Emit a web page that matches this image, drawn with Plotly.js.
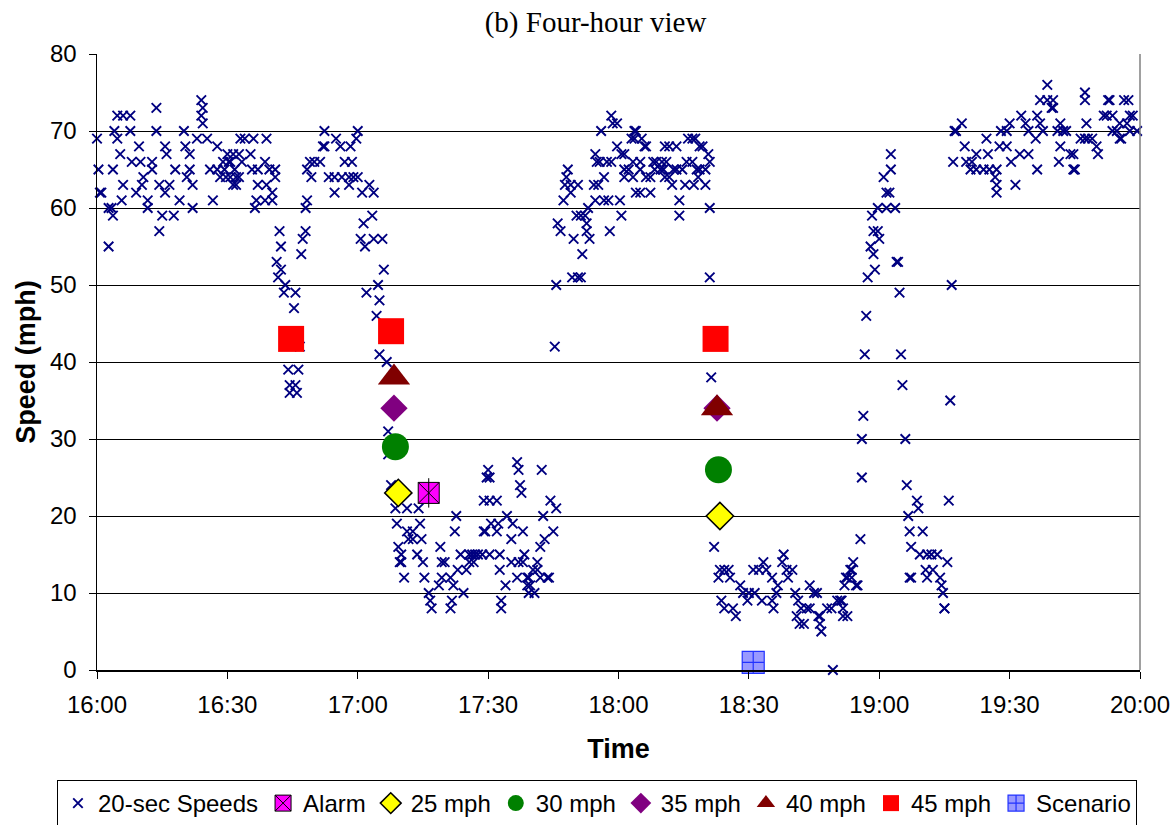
<!DOCTYPE html>
<html>
<head>
<meta charset="utf-8">
<script src="https://cdn.plot.ly/plotly-3.0.1.min.js"></script>
<style>
  html, body { margin: 0; padding: 0; background: #ffffff; }
  #chart { width: 1175px; height: 825px; }
</style>
</head>
<body>
<div id="chart"></div>
<script>
// 20-second detector samples. Slot = number of 20 s steps after 16:00.
const speedSlots = [
  0,1,2,3,8,8,10,11,11,12,14,14,16,17,18,18,23,23,24,27,29,30,31,32,35,35,38,38,41,41,
  43,43,45,47,47,48,50,53,54,57,60,61,62,64,64,66,66,69,72,72,73,73,76,78,80,83,83,85,87,88,
  89,90,91,92,92,94,94,95,96,96,98,98,99,100,102,106,107,108,109,110,111,111,116,116,117,117,119,121,121,123,
  123,124,125,126,127,127,129,130,132,133,133,136,137,137,138,139,140,141,142,144,144,145,145,147,148,150,154,156,157,157,
  160,164,164,165,168,169,171,174,174,175,176,177,179,180,180,182,183,184,185,186,188,190,191,191,193,194,195,195,197,198,
  200,201,201,203,206,207,208,209,210,210,212,214,214,215,218,218,221,222,223,224,225,226,229,230,231,236,237,238,238,240,
  244,244,245,246,247,248,249,251,253,255,257,257,259,260,261,263,266,267,267,268,269,270,271,271,271,272,276,276,277,278,
  278,279,279,282,283,286,286,287,290,290,291,291,292,293,294,294,295,297,297,298,298,299,301,302,304,304,306,306,307,308,
  309,311,312,313,315,316,317,317,318,320,322,323,324,325,327,327,328,329,331,332,332,334,334,335,337,338,338,339,340,343,
  344,344,345,346,347,348,350,350,352,353,354,355,355,356,359,359,361,362,362,364,364,364,367,369,370,370,371,371,372,372,
  375,375,375,376,378,379,379,382,382,384,385,386,389,390,391,392,392,393,395,395,397,398,400,400,402,402,404,406,407,408,
  411,411,412,413,414,415,416,416,418,420,420,422,423,423,423,424,426,429,430,431,433,433,436,437,439,441,444,446,449,450,
  453,454,457,459,460,462,466,466,467,469,470,473,474,476,477,480,482,483,484,485,486,488,490,492,492,495,497,498,499,499,
  500,504,507,508,511,513,514,515,515,516,517,518,518,520,521,521,522,524,525,527,528,528,529,530,531,532,534,535,536,536,
  537,539,539,540,543,545,545,547,548,548,551,552,553,554,555,556,558,559,560,561,561,562,562,566,567,568,570,572,573,573,
  576,577,580,582,583,584,585,585,587,588,589,590,591,592,593,597,599,600,603,604,607,607,612,614,615,616,620,621,621,621,
  623,624,628,628,630,631,634,637,638,641,643,643,648,649,649,651,651,653,656,656,659,660,660,663,664,665,665,667,669,672,
  674,674,675,679,682,682,682,683,684,687,690,691,695,697,698,699,701,701,704,706,706,707,709,711,712,713,713,715,718
];
const speedValues = [
  69,65,62,62,55,60,60,59,65,70,69,72,67,61,72,63,72,70,66,62,68,66,63,64,61,60,66,65,73,70,
  63,57,59,68,62,67,63,59,65,61,70,68,64,67,65,63,60,69,74,72,73,71,69,65,61,68,65,64,66,65,
  64,67,66,64,66,67,63,65,64,63,67,64,69,66,69,67,65,69,60,61,65,63,66,61,69,63,65,62,61,65,
  64,53,51,57,55,52,49,50,39,37,36,47,49,37,36,39,42,54,56,57,60,61,65,66,64,66,66,68,70,68,
  64,64,62,69,68,64,66,64,63,68,66,64,69,70,64,56,62,58,55,49,63,59,62,56,46,50,48,41,56,52,
  40,31,28,24,21,19,16,14,15,14,12,21,18,17,18,17,15,21,19,17,14,12,10,9,8,11,16,14,12,14,
  12,8,9,11,18,20,13,15,10,13,15,14,15,14,15,15,15,18,22,18,25,26,25,22,15,19,22,18,19,15,
  13,9,8,11,20,17,14,19,27,12,26,14,24,23,18,14,15,12,11,10,12,11,13,10,13,14,12,16,26,20,
  17,12,12,22,18,42,21,50,58,57,61,63,64,65,62,63,51,56,59,51,63,51,59,54,59,57,58,60,56,63,
  61,67,66,63,66,70,61,64,66,61,57,66,72,71,71,68,61,59,67,67,65,64,65,69,64,66,70,69,62,70,
  66,65,62,69,68,68,64,64,62,66,65,66,65,66,65,64,68,66,64,68,63,65,68,65,61,59,65,63,66,69,
  66,69,63,69,65,64,65,68,68,65,63,67,66,60,51,38,16,12,13,9,13,8,13,12,8,7,11,10,9,10,
  13,10,13,9,14,13,12,9,8,10,11,14,15,13,12,13,10,7,9,6,8,6,8,11,8,10,10,7,6,7,
  5,8,8,0,9,9,9,7,8,11,12,7,12,13,13,12,14,11,11,17,25,30,33,41,46,51,55,59,57,54,
  52,60,57,56,64,62,60,62,67,65,60,53,53,49,41,37,30,24,20,18,12,16,12,22,21,15,18,13,15,12,
  15,13,15,12,11,10,8,8,14,22,35,50,66,70,70,71,68,66,65,66,65,67,65,69,67,65,64,65,63,62,
  68,70,70,68,71,66,63,67,72,71,70,67,69,72,65,71,74,70,74,76,73,74,73,70,66,71,68,70,70,67,
  67,65,65,69,69,75,74,71,69,69,68,67,72,72,74,74,70,72,70,69,71,69,74,71,74,72,70,72,70
];

// Advisory and event markers
const alarmSlots = [229];       const alarmSpeeds = [23];
const mph25Slots = [208, 430];  const mph25Speeds = [23, 20];
const mph30Slots = [206, 429];  const mph30Speeds = [29, 26];
const mph35Slots = [205, 428];  const mph35Speeds = [34, 34];
const mph40Slots = [205, 428];  const mph40Speeds = [38, 34];
const mph45Slots = [134, 203, 427]; const mph45Speeds = [43, 44, 43];
const scenarioSlots = [453];    const scenarioSpeeds = [1];

function pad(n) { return (n < 10 ? '0' : '') + n; }
function slotTime(slot) {
  const s = slot * 20;
  const h = 16 + Math.floor(s / 3600);
  const m = Math.floor((s % 3600) / 60);
  const sec = s % 60;
  return '2000-01-01 ' + pad(h) + ':' + pad(m) + ':' + pad(sec);
}
const times = arr => arr.map(slotTime);

const FONT = 'Liberation Sans, Arial, sans-serif';

const traces = [
  {
    name: '20-sec Speeds', type: 'scatter', mode: 'markers',
    x: times(speedSlots), y: speedValues, cliponaxis: false,
    marker: { symbol: 'x-thin-open', size: 9.5, color: '#000080', line: { width: 1.9, color: '#000080' } }
  },
  {
    name: 'Alarm', type: 'scatter', mode: 'markers',
    x: times(alarmSlots), y: alarmSpeeds, cliponaxis: false,
    marker: { symbol: 'square-x', size: 21, color: '#ff00ff', line: { width: 1, color: '#000000' } }
  },
  {
    name: 'Alarm', type: 'scatter', mode: 'markers', showlegend: false, hoverinfo: 'skip',
    x: times(alarmSlots), y: alarmSpeeds, cliponaxis: false,
    marker: { symbol: 'line-ns-open', size: 21, color: '#000000', line: { width: 1, color: '#000000' } }
  },
  {
    name: '25 mph', type: 'scatter', mode: 'markers',
    x: times(mph25Slots), y: mph25Speeds, cliponaxis: false,
    marker: { symbol: 'diamond', size: 21, color: '#ffff00', line: { width: 1.5, color: '#000000' } }
  },
  {
    name: '30 mph', type: 'scatter', mode: 'markers',
    x: times(mph30Slots), y: mph30Speeds, cliponaxis: false,
    marker: { symbol: 'circle', size: 27, color: '#008000', line: { width: 0 } }
  },
  {
    name: '35 mph', type: 'scatter', mode: 'markers',
    x: times(mph35Slots), y: mph35Speeds, cliponaxis: false,
    marker: { symbol: 'diamond', size: 21, color: '#800080', line: { width: 0 } }
  },
  {
    name: '40 mph', type: 'scatter', mode: 'markers',
    x: times(mph40Slots), y: mph40Speeds, cliponaxis: false,
    marker: { symbol: 'triangle-up', size: 28, color: '#800000', line: { width: 0 } }
  },
  {
    name: '45 mph', type: 'scatter', mode: 'markers',
    x: times(mph45Slots), y: mph45Speeds, cliponaxis: false,
    marker: { symbol: 'square', size: 26, color: '#ff0000', line: { width: 0 } }
  },
  {
    name: 'Scenario', type: 'scatter', mode: 'markers',
    x: times(scenarioSlots), y: scenarioSpeeds, cliponaxis: false,
    marker: { symbol: 'square-cross', size: 22, color: '#9999ff', line: { width: 1.2, color: '#2233ff' } }
  }
];

const layout = {
  width: 1175, height: 825,
  paper_bgcolor: '#ffffff', plot_bgcolor: '#ffffff',
  margin: { l: 97, r: 35, t: 54, b: 155, pad: 0, autoexpand: false },
  font: { family: FONT, color: '#000000' },
  showlegend: true,
  title: {
    text: '(b) Four-hour view',
    font: { family: 'Liberation Serif, Times New Roman, serif', size: 29, color: '#000000' },
    xref: 'paper', x: 0.478, xanchor: 'center',
    yref: 'container', y: 0.973, yanchor: 'middle'
  },
  xaxis: {
    type: 'date',
    range: ['2000-01-01 16:00:00', '2000-01-01 20:00:00'],
    tick0: '2000-01-01 16:00:00', dtick: 30 * 60 * 1000, tickformat: '%H:%M',
    ticks: 'outside', ticklen: 7, tickwidth: 1, tickcolor: '#000000',
    ticklabelstandoff: 6,
    showline: true, linecolor: '#000000', linewidth: 1.5,
    showgrid: false, zeroline: false,
    tickfont: { family: FONT, size: 24, color: '#000000' },
    title: { text: 'Time', font: { family: FONT, size: 27, weight: 'bold', color: '#000000' }, standoff: 22 },
    automargin: false
  },
  yaxis: {
    range: [0, 80], dtick: 10, tick0: 0,
    ticks: 'outside', ticklen: 7, tickwidth: 1, tickcolor: '#000000',
    ticklabelstandoff: 7,
    showline: true, linecolor: '#000000', linewidth: 1.5,
    showgrid: true, gridcolor: '#000000', gridwidth: 1,
    zeroline: false,
    tickfont: { family: FONT, size: 24, color: '#000000' },
    title: { text: 'Speed (mph)', font: { family: FONT, size: 27, weight: 'bold', color: '#000000' }, standoff: 6 },
    automargin: false
  },
  legend: {
    orientation: 'h',
    xref: 'paper', x: -0.0384, xanchor: 'left',
    yref: 'paper', y: -0.1786, yanchor: 'top',
    bordercolor: '#000000', borderwidth: 1, bgcolor: '#ffffff',
    font: { family: FONT, size: 24, color: '#000000' },
    itemclick: false, itemdoubleclick: false
  },
  shapes: [
    { type: 'line', xref: 'paper', yref: 'paper', x0: 1, x1: 1, y0: 0, y1: 1,
      line: { color: '#808080', width: 1.5 } }
  ]
};

Plotly.newPlot('chart', traces, layout, { staticPlot: true, displayModeBar: false });
</script>
</body>
</html>
